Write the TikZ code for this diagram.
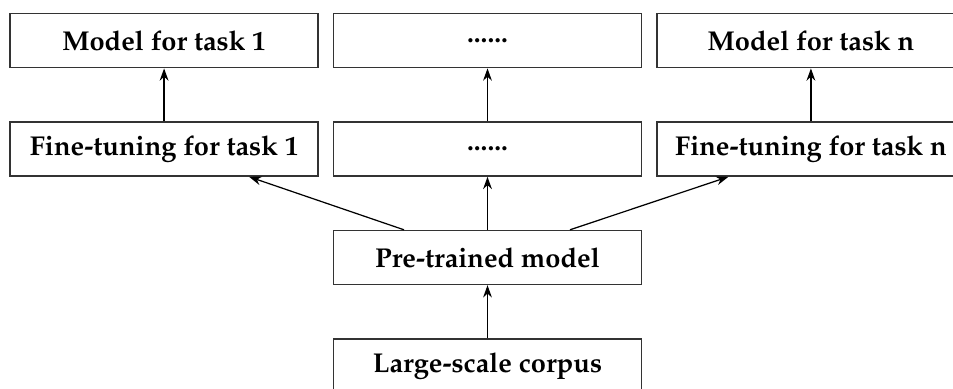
\documentclass[tikz,border=0pt]{standalone}
\usepackage[T1]{fontenc}
\usepackage{mathpazo}
\usetikzlibrary{positioning,arrows.meta}
\begin{document}
\begin{tikzpicture}[-{Stealth[length=7pt,width=5pt]},thick,node distance=1.06cm and 0.28cm,
  box/.style={rectangle,draw=black!80,line width=0.8pt,minimum width=6.16cm,minimum height=1.08cm,
    font=\fontsize{15.5}{18}\selectfont\bfseries}]
\useasboundingbox (0,0) rectangle (19.06,-7.76);
%pre-trained
  \node[box] (pre) at (9.75,-5.15) {Pre-trained model};
  \node[box] (corpus) [below=of pre] {Large-scale corpus};
%fine-tuning
  \node[box] (ftmid) [above=of pre] {......};
  \node[box] (ft1) [left=of ftmid] {Fine-tuning for task 1};
  \node[box] (ftn) [right=of ftmid] {Fine-tuning for task n};
%models
  \node[box] (mmid) [above=of ftmid] {......};
  \node[box] (m1) [above=of ft1] {Model for task 1};
  \node[box] (mn) [above=of ftn] {Model for task n};
%paths
  \draw[line width=0.7pt] (corpus) -- (pre);
  \draw[line width=0.7pt] (pre) -- (ftmid);
  \draw[line width=0.7pt] ([xshift=-1.67cm]pre.north) -- ([xshift=1.7cm]ft1.south);
  \draw[line width=0.7pt] ([xshift=1.65cm]pre.north) -- ([xshift=-1.65cm]ftn.south);
  \draw[line width=0.7pt] (ft1) -- (m1);
  \draw[line width=0.7pt] (ftmid) -- (mmid);
  \draw[line width=0.7pt] (ftn) -- (mn);
\end{tikzpicture}
\end{document}
